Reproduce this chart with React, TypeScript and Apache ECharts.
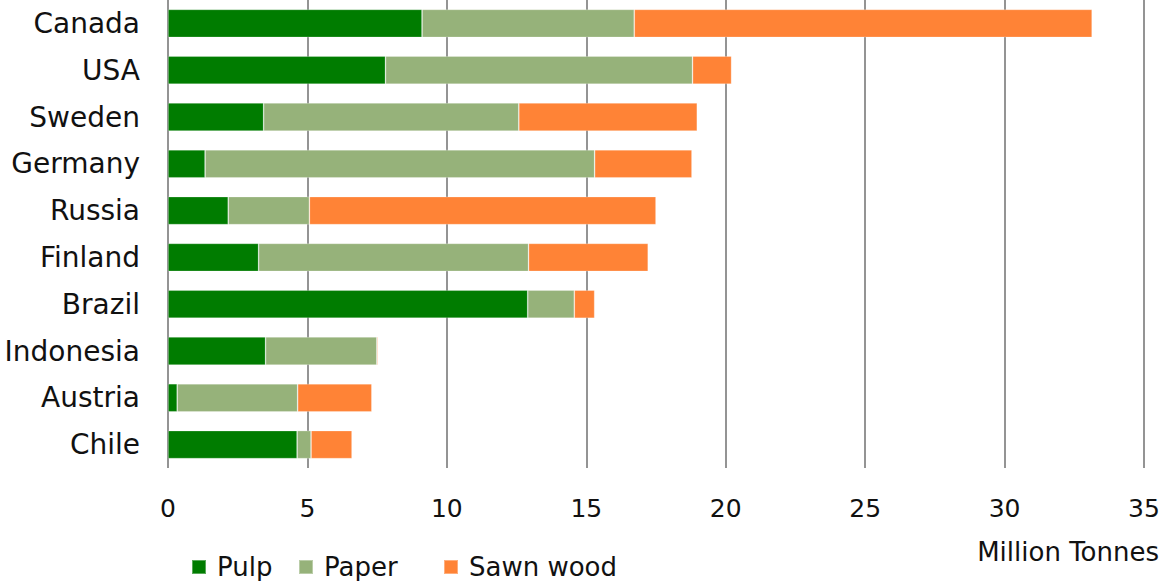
import React, { useEffect, useRef } from "react";
import * as echarts from "echarts";

const countries = ["Canada", "USA", "Sweden", "Germany", "Russia", "Finland", "Brazil", "Indonesia", "Austria", "Chile"];
const pulp = [9.11, 7.8, 3.43, 1.33, 2.16, 3.25, 12.9, 3.5, 0.33, 4.63];
const paper = [7.61, 11.01, 9.15, 13.97, 2.91, 9.68, 1.67, 3.99, 4.32, 0.5];
const sawnWood = [16.42, 1.4, 6.4, 3.49, 12.43, 4.29, 0.73, 0.04, 2.66, 1.47];
const seriesNames = ["Pulp", "Paper", "Sawn wood"];
const seriesColors = ["#007C00", "#96B27A", "#FF8336"];
const axisMax = 35;
const axisInterval = 5;
const unitLabel = "Million Tonnes";

const FONT = "'DejaVu Sans', sans-serif";

export default function App() {
  const ref = useRef<HTMLDivElement>(null);
  useEffect(() => {
    if (!ref.current) return;
    const chart = echarts.init(ref.current, undefined, { renderer: "svg" });
    const values = [pulp, paper, sawnWood];
    const legendLefts = [191, 298, 443];
    chart.setOption({
      animation: false,
      backgroundColor: "#ffffff",
      textStyle: { fontFamily: FONT, color: "#111" },
      grid: { left: 168, right: 21, top: 0, bottom: 113, containLabel: false },
      xAxis: {
        type: "value",
        min: 0,
        max: axisMax,
        interval: axisInterval,
        axisLine: { show: false },
        axisTick: { show: false },
        axisLabel: { fontSize: 25, color: "#111", fontFamily: FONT, margin: 28 },
        splitLine: { show: true, lineStyle: { color: "#707070", width: 1.5 } },
      },
      yAxis: {
        type: "category",
        data: countries,
        inverse: true,
        axisLine: { show: false },
        axisTick: { show: false },
        axisLabel: { fontSize: 28, color: "#111", fontFamily: FONT, margin: 28 },
        splitLine: { show: false },
      },
      legend: seriesNames.map((n, i) => ({
        data: [n],
        left: legendLefts[i],
        top: 554,
        padding: 0,
        itemWidth: 14,
        itemHeight: 14,
        itemGap: 0,
        icon: "rect",
        textStyle: { fontSize: 26, color: "#111", fontFamily: FONT, padding: [0, 0, 0, 6] },
      })),
      graphic: [
        {
          type: "text",
          right: 6,
          top: 539,
          style: { text: unitLabel, font: `26px ${FONT}`, fill: "#111" },
        },
      ],
      series: seriesNames.map((n, i) => ({
        name: n,
        type: "bar",
        stack: "total",
        data: values[i],
        barCategoryGap: "40%",
        itemStyle: { color: seriesColors[i], borderColor: "rgba(255,255,255,0.35)", borderWidth: 0.75 },
      })),
    });
    return () => chart.dispose();
  }, []);
  return <div ref={ref} style={{ position: "absolute", left: 0, top: 0, width: 1165, height: 581 }} />;
}
